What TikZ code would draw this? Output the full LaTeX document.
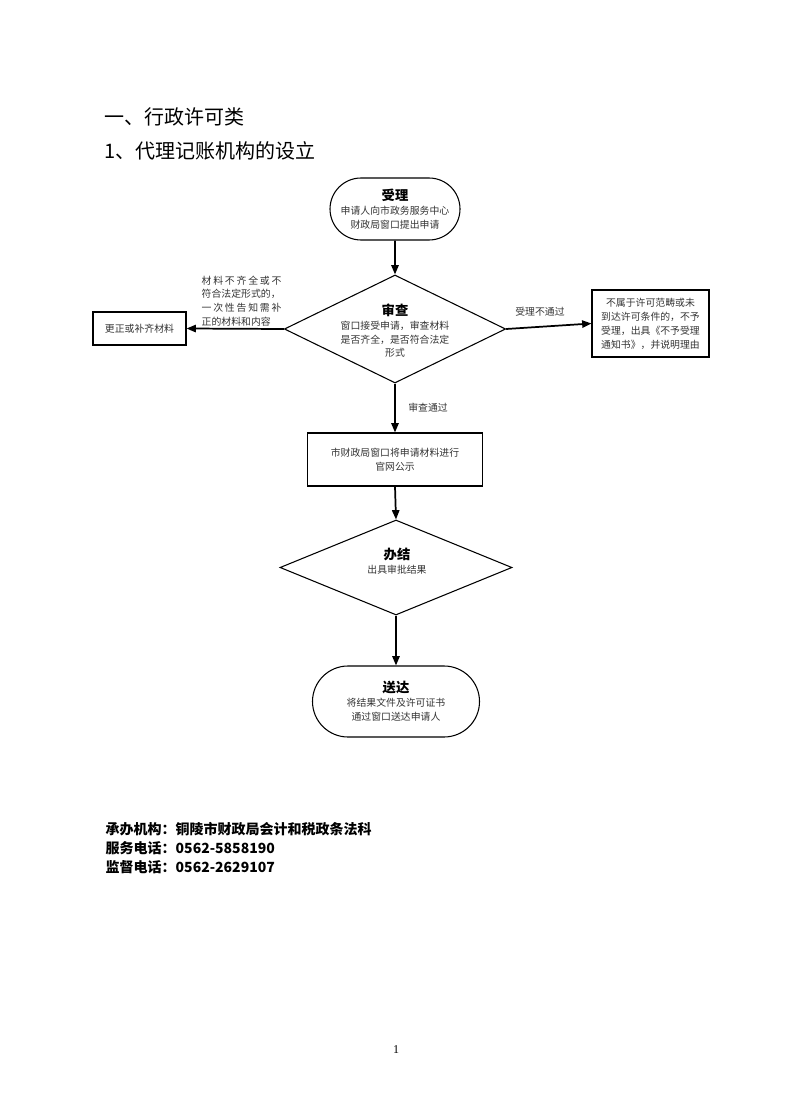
\documentclass[tikz,border=0pt]{standalone}
\usepackage{fontspec}
\setmainfont{Noto Sans CJK SC}
\newfontfamily\numfont{Liberation Serif}
\usetikzlibrary{shapes.geometric, shapes.misc, arrows.meta}

\begin{document}
\begin{tikzpicture}[x=0.75pt, y=-0.75pt,
    box/.style={draw, line width=0.8pt, inner sep=0pt, align=center, text=black!80, font=\fontsize{7.4}{10.5}\selectfont},
    terminal/.style={box, rounded rectangle},
    decision/.style={draw, diamond, line width=0.8pt, inner sep=0pt},
    freccia/.style={line width=1.3pt, -{Triangle[length=7pt, width=5.5pt]}},
    nota/.style={align=left, text=black!80, font=\fontsize{7.4}{10.3}\selectfont},
    titolo/.style={font=\fontsize{10}{12}\selectfont\bfseries, text=black}]
    \useasboundingbox (0,0) rectangle (790,1119);
    % Titoli
    \node[anchor=west, font=\fontsize{15}{18}\selectfont] (h1) at (100,117) {一、行政许可类};
    \node[anchor=west, font=\fontsize{15}{18}\selectfont] (h2) at (100,151) {1、代理记账机构的设立};
    % Passi
    \node[terminal, minimum width=97.5pt, minimum height=46.5pt] (accept) at (395,209)
        {{\fontsize{10}{12}\selectfont\bfseries\color{black}受理}\\申请人向市政务服务中心\\财政局窗口提出申请};
    \node[decision, minimum width=166pt, minimum height=81pt] (check) at (395,329) {};
    \node[align=center, text=black!80, font=\fontsize{7.4}{10.3}\selectfont] (checktext) at (395,331)
        {{\fontsize{10}{12}\selectfont\bfseries\color{black}审查}\\窗口接受申请，审查材料\\是否齐全，是否符合法定\\形式};
    \node[box, minimum width=69.75pt, minimum height=24.75pt] (fix) at (139.5,328.5) {更正或补齐材料};
    \node[box, minimum width=87.75pt, minimum height=50.25pt] (reject) at (650.5,323.5)
        {不属于许可范畴或未\\到达许可条件的，不予\\受理，出具《不予受理\\通知书》，并说明理由};
    \node[box, minimum width=131.25pt, minimum height=39.75pt] (publish) at (395,459.5)
        {市财政局窗口将申请材料进行\\官网公示};
    \node[decision, minimum width=174pt, minimum height=71.25pt] (finish) at (396,567.5) {};
    \node[align=center, text=black!80, font=\fontsize{7.4}{10.3}\selectfont] (finishtext) at (397,561)
        {{\fontsize{10}{12}\selectfont\bfseries\color{black}办结}\\出具审批结果};
    \node[terminal, minimum width=125.25pt, minimum height=53.25pt] (deliver) at (396,701.5)
        {{\fontsize{10}{12}\selectfont\bfseries\color{black}送达}\\将结果文件及许可证书\\通过窗口送达申请人};
    % Frecce
    \draw[freccia] (accept) -- (check);
    \draw[freccia] (check.west) -- (fix.east);
    \draw[freccia] (check.east) -- (reject.west);
    \draw[freccia] (check.south) -- (publish.north) node[midway, right=6pt, nota]{审查通过};
    \draw[freccia] (publish.south) -- (finish.north);
    \draw[freccia] (finish.south) -- (deliver.north);
    % Note
    \node[nota, anchor=north west] (lacking) at (197,271)
        {{\addfontfeature{LetterSpace=18}材料不齐全或不}\\符合法定形式的，\\{\addfontfeature{LetterSpace=18}一次性告知需补}\\正的材料和内容};
    \node[nota] (refused) at (540,312) {受理不通过};
    % Contatti
    \node[anchor=west, font=\fontsize{10.5}{14}\selectfont\bfseries] (office) at (101,829) {承办机构：铜陵市财政局会计和税政条法科};
    \node[anchor=west, font=\fontsize{10.5}{14}\selectfont\bfseries] (service) at (101,848) {服务电话：0562-5858190};
    \node[anchor=west, font=\fontsize{10.5}{14}\selectfont\bfseries] (monitor) at (101,867) {监督电话：0562-2629107};
    \node[font=\numfont\fontsize{9}{11}\selectfont] (page) at (396,1050) {1};
\end{tikzpicture}
\end{document}
